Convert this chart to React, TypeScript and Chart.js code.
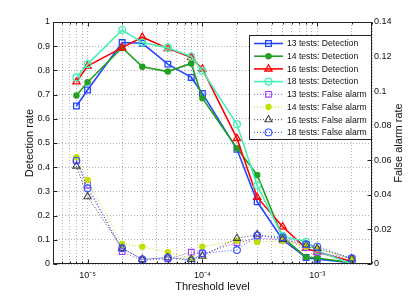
import React, { useEffect, useRef } from 'react';
import { Chart, registerables } from 'chart.js';

Chart.register(...registerables);

const FONT = '"Liberation Sans", Arial, Helvetica, sans-serif';

// ---- data ----
const thresholds = [8e-6, 1e-5, 2e-5, 3e-5, 5e-5, 8e-5, 1e-4, 2e-4, 3e-4, 5e-4, 8e-4, 1e-3, 2e-3];

const det13 = [0.653, 0.719, 0.915, 0.912, 0.826, 0.771, 0.705, 0.474, 0.257, 0.100, 0.027, 0.020, 0.005];
const det14 = [0.696, 0.751, 0.894, 0.815, 0.795, 0.829, 0.685, 0.478, 0.368, 0.110, 0.028, 0.025, 0.005];
const det16 = [0.753, 0.818, 0.894, 0.937, 0.891, 0.853, 0.806, 0.519, 0.276, 0.154, 0.065, 0.050, 0.010];
const det18 = [0.771, 0.826, 0.967, 0.915, 0.894, 0.857, 0.798, 0.577, 0.324, 0.115, 0.092, 0.055, 0.000];

const fa13 = [0.0600, 0.0457, 0.0071, 0.0020, 0.0030, 0.0068, 0.0060, 0.0123, 0.0150, 0.0140, 0.0095, 0.0068, 0.0030];
const fa14 = [0.0618, 0.0486, 0.0116, 0.0100, 0.0068, 0.0033, 0.0100, 0.0135, 0.0126, 0.0135, 0.0100, 0.0090, 0.0030];
const fa16 = [0.0567, 0.0390, 0.0090, 0.0027, 0.0037, 0.0027, 0.0046, 0.0149, 0.0170, 0.0143, 0.0110, 0.0090, 0.0030];
const fa18 = [0.0598, 0.0438, 0.0091, 0.0027, 0.0037, 0.0019, 0.0062, 0.0081, 0.0165, 0.0155, 0.0114, 0.0100, 0.0033];

const seriesLabels = [
  '13 tests: Detection',
  '14 tests: Detection',
  '16 tests: Detection',
  '18 tests: Detection',
  '13 tests: False alarm',
  '14 tests: False alarm',
  '16 tests: False alarm',
  '18 tests: False alarm',
];

const xMajorTicks = [1e-5, 1e-4, 1e-3];
const xTickLabels = ['10\u207B\u2075', '10\u207B\u2074', '10\u207B\u00B3'];
const xMinorTicks = [
  5e-6, 6e-6, 7e-6, 8e-6, 9e-6,
  2e-5, 3e-5, 4e-5, 5e-5, 6e-5, 7e-5, 8e-5, 9e-5,
  2e-4, 3e-4, 4e-4, 5e-4, 6e-4, 7e-4, 8e-4, 9e-4,
  2e-3, 3e-3,
];
const yLeftTicks = [0, 0.1, 0.2, 0.3, 0.4, 0.5, 0.6, 0.7, 0.8, 0.9, 1];
const yLeftLabels = ['0', '0.1', '0.2', '0.3', '0.4', '0.5', '0.6', '0.7', '0.8', '0.9', '1'];
const yRightTicks = [0, 0.02, 0.04, 0.06, 0.08, 0.1, 0.12, 0.14];
const yRightLabels = ['0', '0.02', '0.04', '0.06', '0.08', '0.1', '0.12', '0.14'];

const xTitle = 'Threshold level';
const yLeftTitle = 'Detection rate';
const yRightTitle = 'False alarm rate';

// ---- styles ----
type Sty = { color: string; marker: string; radius: number; fill: string | null; width: number; dash: number[]; mlw: number };
const styles: Sty[] = [
  { color: '#2346ff', marker: 'rect', radius: 4, fill: null, width: 1.6, dash: [], mlw: 1.3 },
  { color: '#22a022', marker: 'circle', radius: 2.6, fill: '#22a022', width: 1.6, dash: [], mlw: 1.3 },
  { color: '#ff0000', marker: 'triangle', radius: 4.2, fill: null, width: 1.6, dash: [], mlw: 1.3 },
  { color: '#44f0b4', marker: 'circle', radius: 3.4, fill: null, width: 1.6, dash: [], mlw: 1.3 },
  { color: '#a040ff', marker: 'rect', radius: 4, fill: null, width: 1, dash: [1, 2], mlw: 1.1 },
  { color: '#c2e000', marker: 'circle', radius: 2.6, fill: '#c2e000', width: 1, dash: [1, 2], mlw: 1.1 },
  { color: '#444444', marker: 'triangle', radius: 4.2, fill: null, width: 1, dash: [1, 2], mlw: 1.1 },
  { color: '#3050ff', marker: 'circle', radius: 3.4, fill: null, width: 1, dash: [1, 2], mlw: 1.1 },
];

const allSeries = [det13, det14, det16, det18, fa13, fa14, fa16, fa18];

function drawMarker(ctx: CanvasRenderingContext2D, s: Sty, x: number, y: number) {
  const r = s.radius;
  ctx.save();
  ctx.setLineDash([]);
  ctx.beginPath();
  if (s.marker === 'rect') {
    const h = r * Math.SQRT1_2;
    ctx.rect(x - h, y - h, 2 * h, 2 * h);
  } else if (s.marker === 'triangle') {
    let a = 0;
    ctx.moveTo(x + Math.sin(a) * r, y - Math.cos(a) * r);
    a += (2 * Math.PI) / 3;
    ctx.lineTo(x + Math.sin(a) * r, y - Math.cos(a) * r);
    a += (2 * Math.PI) / 3;
    ctx.lineTo(x + Math.sin(a) * r, y - Math.cos(a) * r);
    ctx.closePath();
  } else {
    ctx.arc(x, y, r, 0, Math.PI * 2);
  }
  if (s.fill) {
    ctx.fillStyle = s.fill;
    ctx.fill();
  }
  ctx.lineWidth = s.mlw;
  ctx.strokeStyle = s.color;
  ctx.stroke();
  ctx.restore();
}

const near = (a: number, b: number) => Math.abs(a - b) <= Math.abs(b) * 1e-6;

const framePlugin = {
  id: 'matlabFrame',
  afterDraw(chart: any) {
    const { ctx, chartArea: a, scales } = chart;
    const L = Math.round(a.left) + 0.5;
    const R = Math.round(a.right) - 0.5;
    const T = Math.round(a.top) + 0.5;
    const B = Math.round(a.bottom) - 0.5;
    ctx.save();
    ctx.strokeStyle = '#222';
    ctx.lineWidth = 1;
    ctx.setLineDash([]);
    ctx.strokeRect(L, T, R - L, B - T);
    // inward ticks
    ctx.beginPath();
    for (const v of yLeftTicks) {
      const y = Math.round(scales.y.getPixelForValue(v)) + 0.5;
      ctx.moveTo(L, y);
      ctx.lineTo(L + 4, y);
    }
    for (const v of yRightTicks) {
      const y = Math.round(scales.y2.getPixelForValue(v)) + 0.5;
      ctx.moveTo(R, y);
      ctx.lineTo(R - 4, y);
    }
    for (const v of xMajorTicks) {
      const x = Math.round(scales.x.getPixelForValue(v)) + 0.5;
      ctx.moveTo(x, B);
      ctx.lineTo(x, B - 4);
      ctx.moveTo(x, T);
      ctx.lineTo(x, T + 4);
    }
    for (const v of xMinorTicks) {
      const x = Math.round(scales.x.getPixelForValue(v)) + 0.5;
      ctx.moveTo(x, B);
      ctx.lineTo(x, B - 2);
      ctx.moveTo(x, T);
      ctx.lineTo(x, T + 2);
    }
    ctx.stroke();

    // axis titles
    ctx.fillStyle = '#111';
    ctx.font = `11px ${FONT}`;
    ctx.textAlign = 'center';
    ctx.textBaseline = 'middle';
    const cy = (a.top + a.bottom) / 2;
    ctx.save();
    ctx.translate(30, cy);
    ctx.rotate(-Math.PI / 2);
    ctx.fillText(yLeftTitle, 0, 0);
    ctx.restore();
    ctx.save();
    ctx.translate(a.right + 27, cy);
    ctx.rotate(-Math.PI / 2);
    ctx.fillText(yRightTitle, 0, 0);
    ctx.restore();
    ctx.fillText(xTitle, (a.left + a.right) / 2, a.bottom + 23);

    // legend
    const lx0 = 249.5, lx1 = Math.round(a.right) - 0.5, ly0 = 35.5, ly1 = 139.5;
    ctx.fillStyle = '#fff';
    ctx.fillRect(lx0, ly0, lx1 - lx0, ly1 - ly0);
    ctx.strokeStyle = '#222';
    ctx.lineWidth = 1;
    ctx.strokeRect(lx0, ly0, lx1 - lx0, ly1 - ly0);
    ctx.font = `8.6px ${FONT}`;
    ctx.textAlign = 'left';
    ctx.textBaseline = 'middle';
    for (let i = 0; i < seriesLabels.length; i++) {
      const s = styles[i];
      const y = 43.5 + i * 12.7;
      ctx.save();
      ctx.strokeStyle = s.color;
      ctx.lineWidth = s.width;
      ctx.setLineDash(s.dash);
      ctx.beginPath();
      ctx.moveTo(254, y);
      ctx.lineTo(283, y);
      ctx.stroke();
      ctx.restore();
      drawMarker(ctx, s, 268.5, y);
      ctx.fillStyle = '#111';
      ctx.fillText(seriesLabels[i], 287, y + 0.5);
    }
    ctx.restore();
  },
};

export default function App() {
  const ref = useRef<HTMLCanvasElement | null>(null);

  useEffect(() => {
    if (!ref.current) return;
    const datasets = allSeries.map((vals, i) => {
      const s = styles[i];
      return {
        label: seriesLabels[i],
        data: thresholds.map((t, j) => ({ x: t, y: vals[j] })),
        yAxisID: i < 4 ? 'y' : 'y2',
        borderColor: s.color,
        backgroundColor: s.fill ?? 'rgba(0,0,0,0)',
        borderWidth: s.width,
        borderDash: s.dash,
        pointStyle: s.marker,
        pointRadius: s.radius,
        pointBorderWidth: s.mlw,
        pointBorderColor: s.color,
        pointBackgroundColor: s.fill ?? 'rgba(0,0,0,0)',
        fill: false,
        tension: 0,
        order: 8 - i,
      };
    });

    const tickFont = { family: FONT, size: 9 };
    const chart = new Chart(ref.current, {
      type: 'line',
      data: { datasets } as any,
      options: {
        animation: false,
        responsive: false,
        devicePixelRatio: 1,
        layout: { padding: { top: 22, left: 0, right: 0, bottom: 0 } },
        plugins: { legend: { display: false }, tooltip: { enabled: false } },
        scales: {
          x: {
            type: 'logarithmic',
            position: 'bottom',
            min: 5e-6,
            max: 3e-3,
            afterFit: (s: any) => { s.height = 34; },
            afterBuildTicks: (s: any) => {
              s.ticks = [...xMinorTicks, ...xMajorTicks].sort((p, q) => p - q).map((v) => ({ value: v }));
            },
            ticks: {
              autoSkip: false,
              maxRotation: 0,
              minRotation: 0,
              padding: 6,
              color: '#111',
              font: tickFont,
              callback: (v: any) => {
                const k = xMajorTicks.findIndex((m) => near(Number(v), m));
                return k >= 0 ? xTickLabels[k] : '';
              },
            },
            grid: { color: 'rgba(0,0,0,0.3)', drawTicks: false, lineWidth: 1 },
            border: { display: false, dash: [1, 2] },
          },
          y: {
            type: 'linear',
            position: 'left',
            min: 0,
            max: 1,
            afterFit: (s: any) => { s.width = 53; },
            afterBuildTicks: (s: any) => { s.ticks = yLeftTicks.map((v) => ({ value: v })); },
            ticks: {
              padding: 3,
              color: '#111',
              font: tickFont,
              callback: (v: any) => {
                const k = yLeftTicks.findIndex((m) => Math.abs(Number(v) - m) < 1e-9);
                return k >= 0 ? yLeftLabels[k] : '';
              },
            },
            grid: { color: 'rgba(0,0,0,0.3)', drawTicks: false, lineWidth: 1 },
            border: { display: false, dash: [1, 2] },
          },
          y2: {
            type: 'linear',
            position: 'right',
            min: 0,
            max: 0.14,
            afterFit: (s: any) => { s.width = 37; },
            afterBuildTicks: (s: any) => { s.ticks = yRightTicks.map((v) => ({ value: v })); },
            ticks: {
              padding: 2,
              color: '#111',
              font: tickFont,
              callback: (v: any) => {
                const k = yRightTicks.findIndex((m) => Math.abs(Number(v) - m) < 1e-9);
                return k >= 0 ? yRightLabels[k] : '';
              },
            },
            grid: { display: false, drawTicks: false },
            border: { display: false },
          },
        },
      },
      plugins: [framePlugin],
    } as any);
    return () => chart.destroy();
  }, []);

  return (
    <div style={{ position: 'absolute', left: 0, top: 0, width: 409, height: 298, background: '#fff' }}>
      <canvas ref={ref} width={409} height={298} style={{ display: 'block', width: 409, height: 298 }} />
    </div>
  );
}
